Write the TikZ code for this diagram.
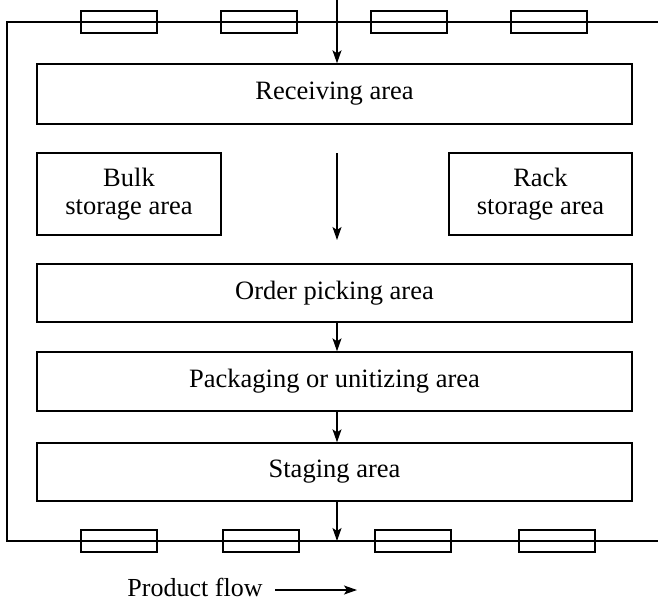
\documentclass[tikz,border=0pt]{standalone}
\usepackage{fontspec}
\setmainfont{Liberation Serif}
\usetikzlibrary{arrows.meta}
\begin{document}
\begin{tikzpicture}[x=1pt,y=-1pt,
  area/.style={draw,line width=1.4pt,inner sep=0pt,align=center,
    font=\fontsize{26.5}{27.5}\selectfont},
  door/.style={draw,line width=1.4pt,minimum width=76pt,minimum height=22pt,inner sep=0pt},
  flow/.style={line width=1.3pt,-{Stealth[length=13pt,width=9pt,inset=3pt]}},
  wall/.style={line width=1.4pt}]
\useasboundingbox (0,0) rectangle (658,603);

% building walls (right side runs off the sheet)
\coordinate (tr) at (658,22);
\coordinate (tl) at (7,22);
\coordinate (bl) at (7,541);
\coordinate (br) at (658,541);
\draw[wall] (tr) -- (tl) -- (bl) -- (br);

% dock doors, top wall
\node[door] (d1) at (119,22) {};
\node[door] (d2) at (259,22) {};
\node[door] (d3) at (409,22) {};
\node[door] (d4) at (549,22) {};
% dock doors, bottom wall
\node[door] (e1) at (119,541) {};
\node[door] (e2) at (261,541) {};
\node[door] (e3) at (413,541) {};
\node[door] (e4) at (557,541) {};

% functional areas
\node[area,minimum width=595pt,minimum height=60pt] (recv) at (334.5,94) {Receiving area};
\node[area,minimum width=184pt,minimum height=82pt] (bulk) at (129,194) {Bulk\\storage area};
\node[area,minimum width=183pt,minimum height=82pt] (rack) at (540.5,194) {Rack\\storage area};
\node[area,minimum width=595pt,minimum height=58pt] (pick) at (334.5,293) {Order picking area};
\node[area,minimum width=595pt,minimum height=59pt] (pack) at (334.5,381.5) {Packaging or unitizing area};
\node[area,minimum width=595pt,minimum height=58pt] (stage) at (334.5,472) {Staging area};

% material flow
\coordinate (in) at (337,0);
\coordinate (out) at (337,541);
\coordinate (ms) at (337,153);
\coordinate (me) at (337,240);
\draw[flow] (in) -- (in |- recv.north);
\draw[flow] (ms) -- (me);
\draw[flow] (pick.south -| in) -- (pack.north -| in);
\draw[flow] (pack.south -| in) -- (stage.north -| in);
\draw[flow] (stage.south -| in) -- (out);

% legend
\node[font=\fontsize{26}{27}\selectfont,inner sep=1pt] (leg) at (195,587) {Product flow};
\coordinate (la) at (275,590);
\coordinate (lb) at (357,590);
\draw[flow] (la) -- (lb);
\end{tikzpicture}
\end{document}
